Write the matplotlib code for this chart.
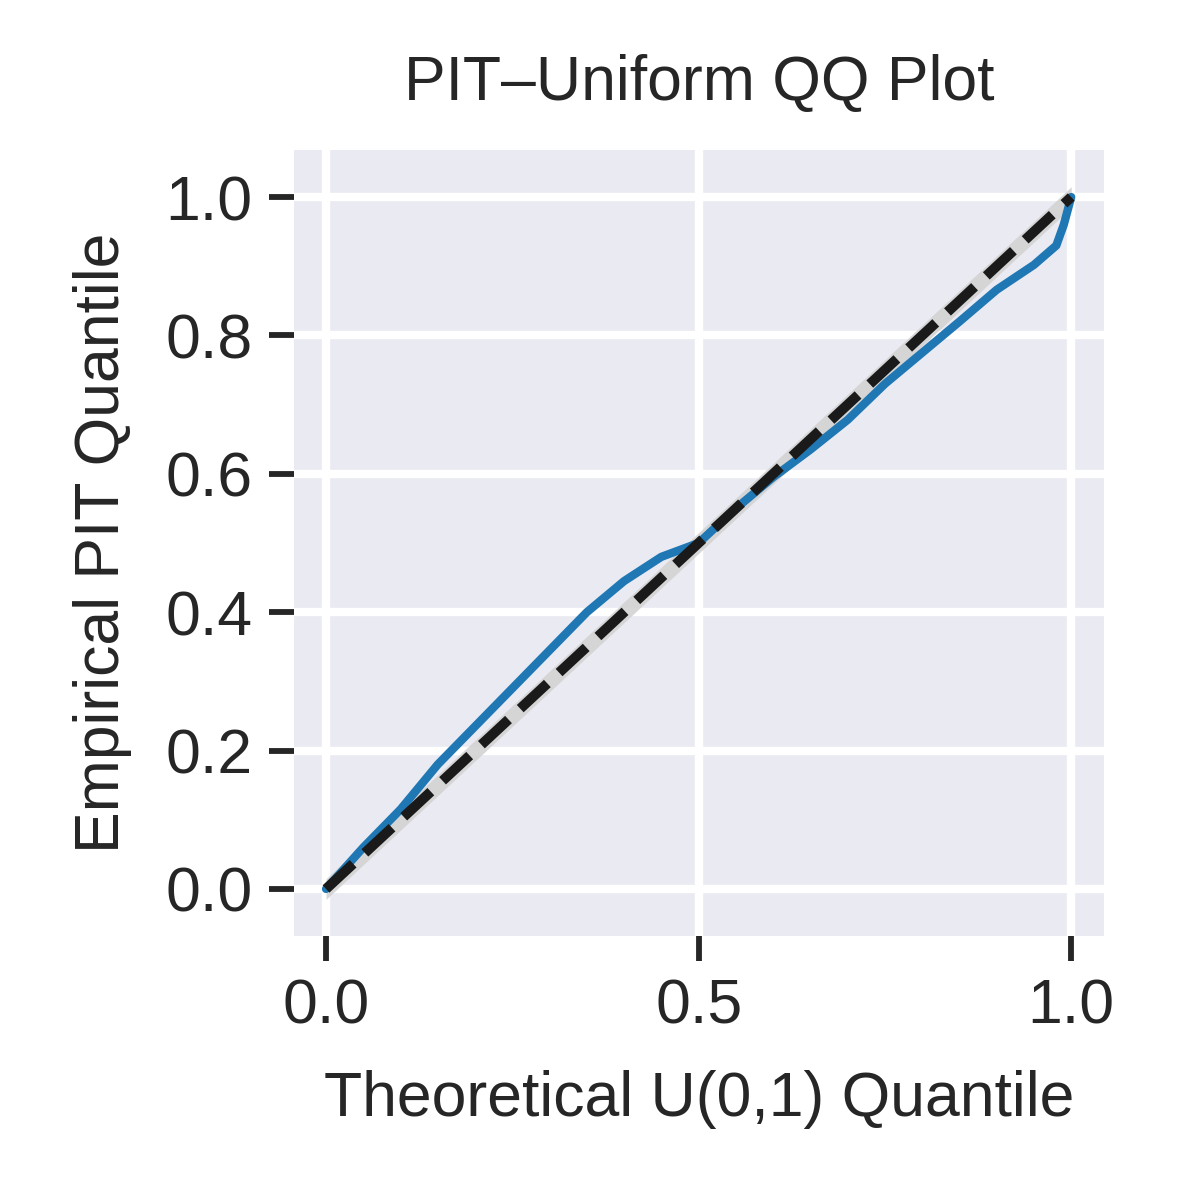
import matplotlib
matplotlib.use("Agg")
import matplotlib.pyplot as plt
import seaborn as sns
import numpy as np

sns.set_theme(style="darkgrid")
plt.rcParams['font.family'] = ['Liberation Sans', 'DejaVu Sans']

theo = [0.0, 0.05, 0.1, 0.15, 0.2, 0.25, 0.3, 0.35, 0.4, 0.45, 0.5, 0.55, 0.6, 0.65, 0.7, 0.75, 0.8, 0.85, 0.9, 0.95, 0.98, 0.99, 1.0]
emp  = [0.0, 0.06, 0.115, 0.18, 0.235, 0.29, 0.345, 0.40, 0.445, 0.48, 0.5, 0.55, 0.595, 0.635, 0.678, 0.73, 0.775, 0.82, 0.866, 0.902, 0.93, 0.96, 1.0]
diag = [0.0, 1.0]
band = 0.015

fig, ax = plt.subplots(figsize=(2, 2), dpi=600)
ax.fill_between(diag, [d - band for d in diag], [d + band for d in diag], color='lightgray', alpha=0.9, lw=0, zorder=2)
ax.plot(theo, emp, color='#1f77b4', lw=1.0, zorder=3)
ax.plot(diag, diag, 'k--', lw=1.2, zorder=4)
ax.set_xlim(-0.043, 1.044)
ax.set_ylim(-0.068, 1.068)
ax.set_xticks([0, 0.5, 1.0])
ax.set_yticks([0, 0.2, 0.4, 0.6, 0.8, 1.0])
ax.tick_params(axis='both', which='major', length=3, width=0.7, color='#262626', labelsize=7.5, bottom=True, left=True, pad=2)
ax.set_title('PIT–Uniform QQ Plot', fontsize=7.5, color='#262626')
ax.set_xlabel('Theoretical U(0,1) Quantile', fontsize=7.5, color='#262626')
ax.set_ylabel('Empirical PIT Quantile', fontsize=7.5, color='#262626')
for s in ax.spines.values():
    s.set_visible(False)
fig.subplots_adjust(left=0.245, right=0.92, bottom=0.22, top=0.875)
fig.savefig('out.png', dpi=600)
